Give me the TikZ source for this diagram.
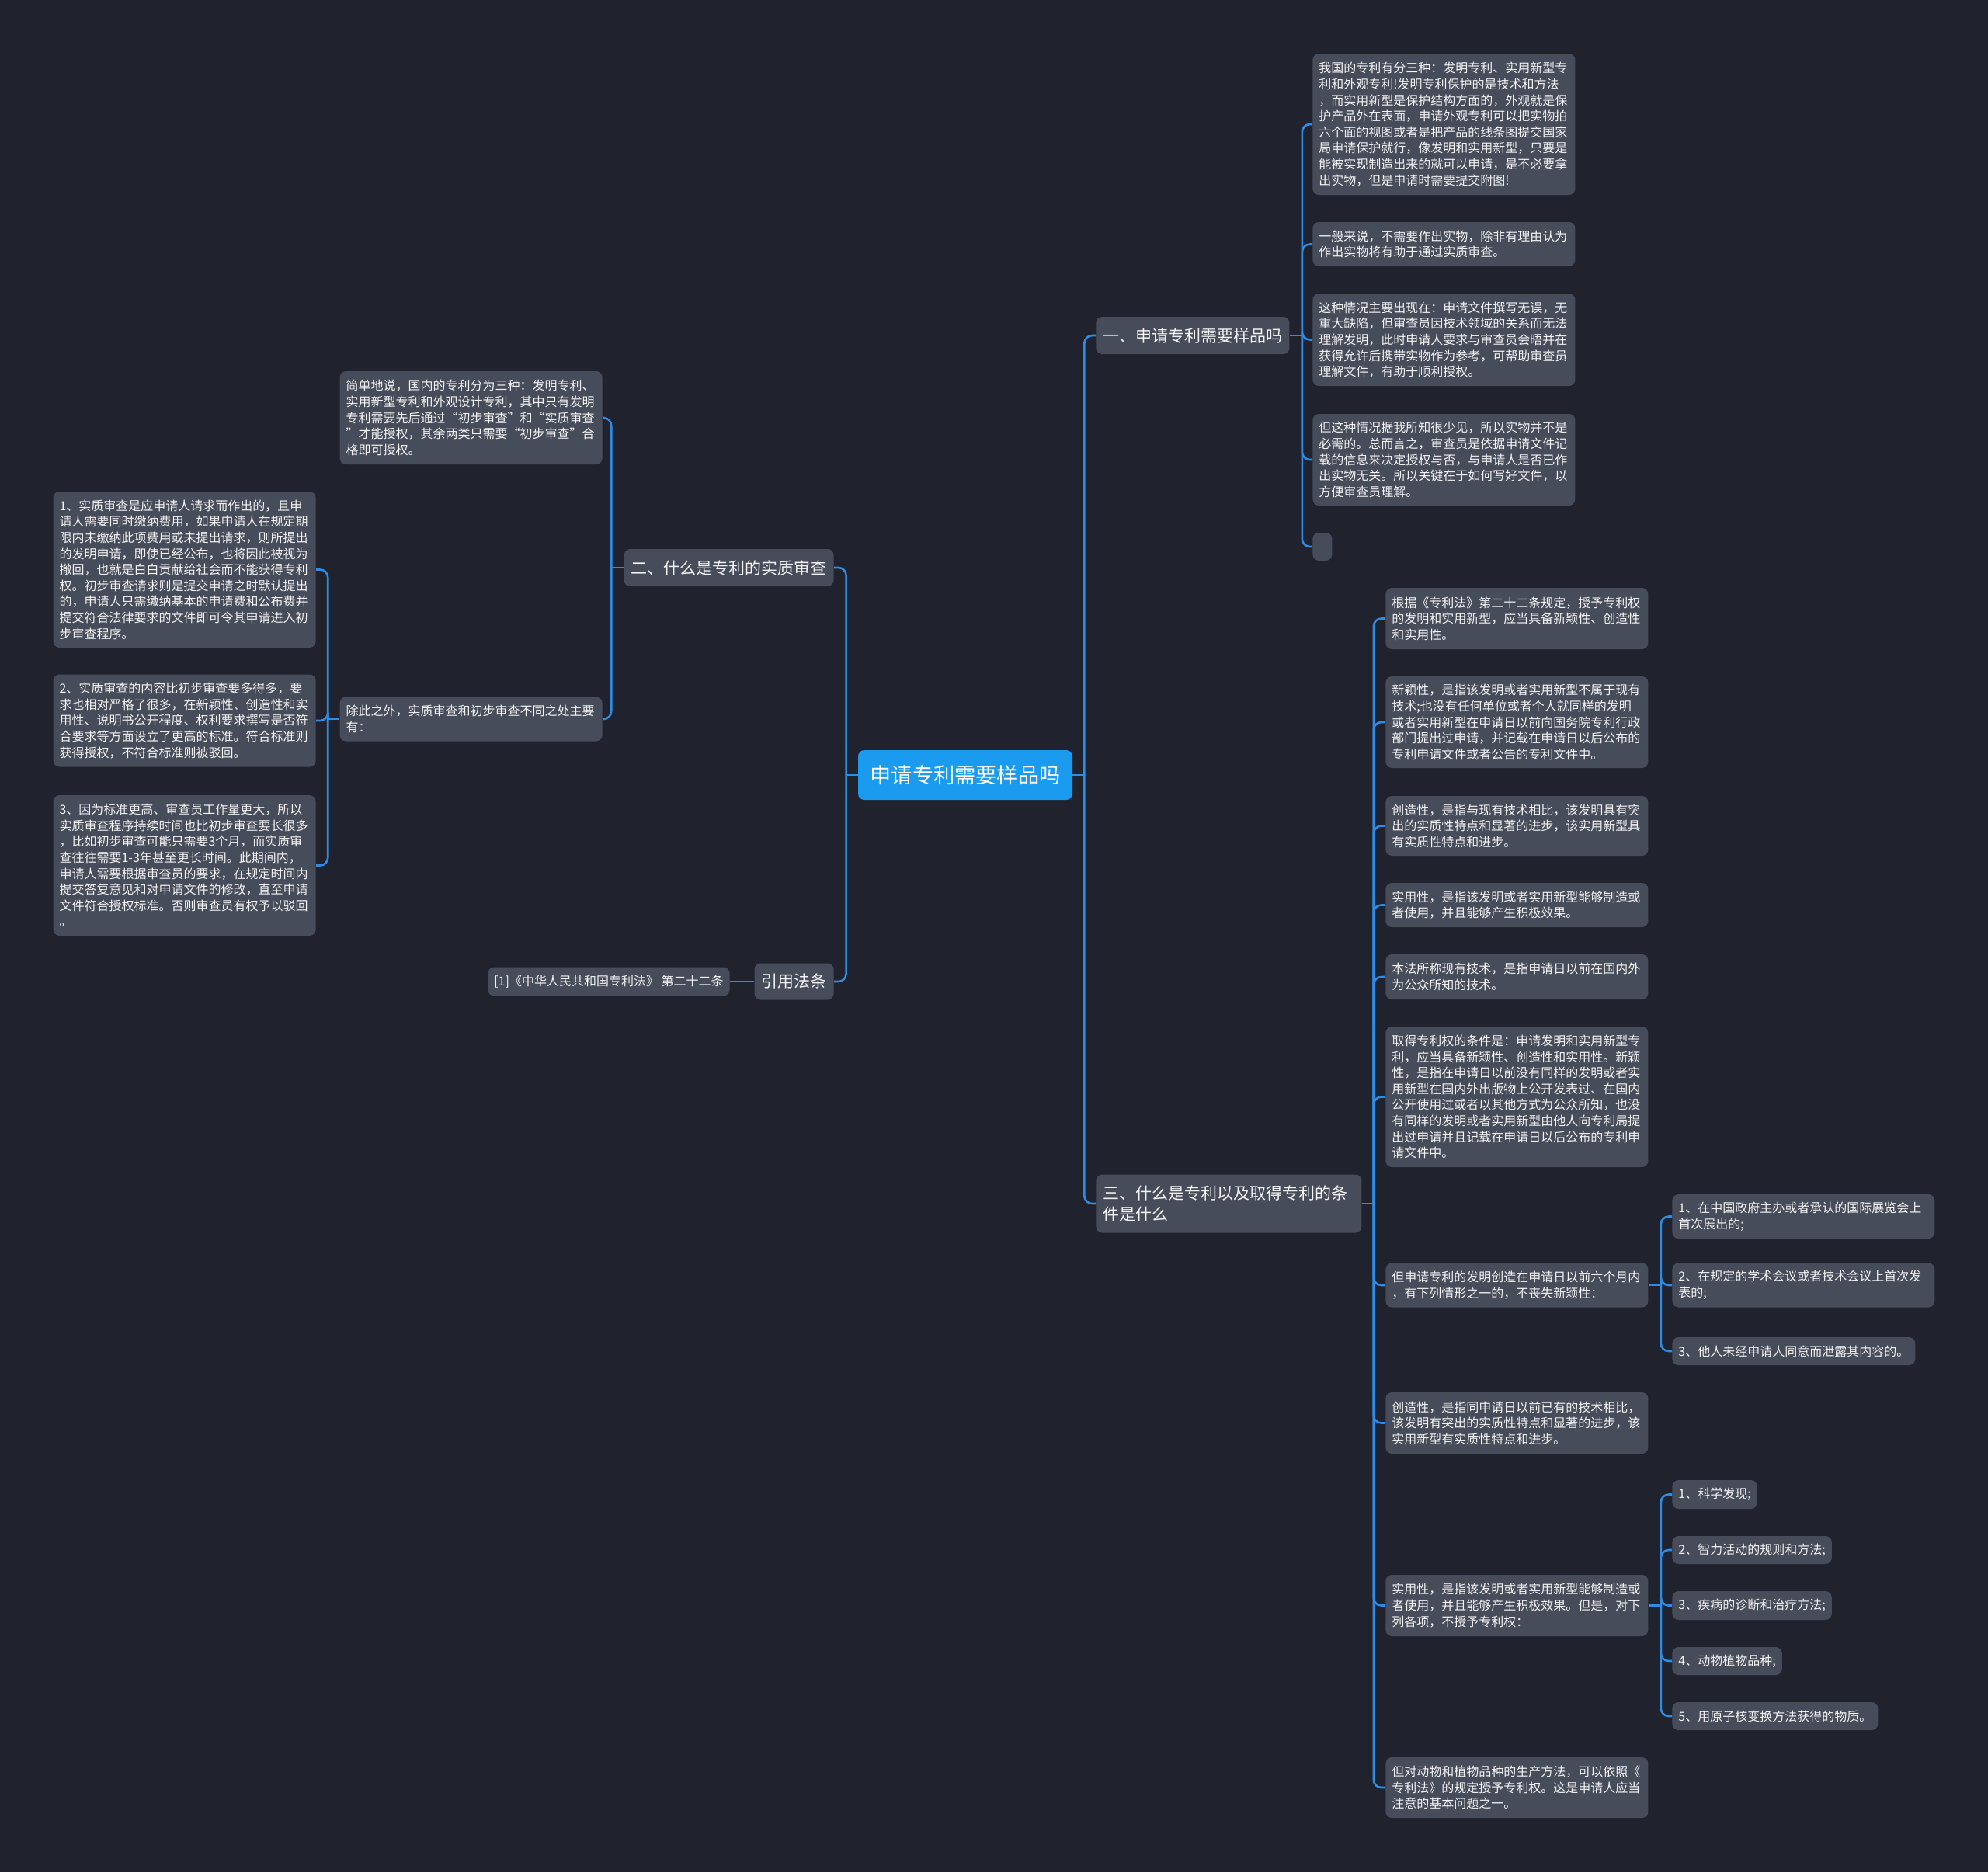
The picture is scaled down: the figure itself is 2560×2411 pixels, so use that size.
\documentclass[tikz,border=0pt]{standalone}
\usepackage{fontspec}
\setmainfont{Noto Sans CJK SC}
\definecolor{bgc}{HTML}{20232E}
\definecolor{boxc}{HTML}{474C5A}
\definecolor{linec}{HTML}{2D8CE6}
\definecolor{rootc}{HTML}{1A9BF0}
\definecolor{txtc}{HTML}{F3F3F3}
\tikzset{
  basebox/.style={fill=boxc, text=txtc, rounded corners=4pt, inner xsep=4pt, inner ysep=0pt},
  hh/.style={minimum height=#1*0.5pt},
  leaf/.style={basebox, font=\fontsize{8}{10.3}\selectfont, align=left, text width=161pt},
  small/.style={basebox, font=\fontsize{8}{10.3}\selectfont, align=left},
  topic/.style={basebox, font=\fontsize{10.5}{13.75}\selectfont, inner xsep=4.5pt, align=left},
  rootn/.style={fill=rootc, text=white, rounded corners=4pt, font=\fontsize{13.6}{16}\selectfont, minimum width=138pt, minimum height=32pt, inner sep=0pt},
  conn/.style={draw=linec, line width=1.3pt, rounded corners=5pt}
}
\begin{document}
\begin{tikzpicture}[x=0.5pt, y=-0.5pt]
\fill[bgc] (0,0) rectangle (2560,2411);

% root
\node[rootn] (root) at (1243,998) {申请专利需要样品吗};

% level 1
\node[topic, hh=48, anchor=west] (n1) at (1411,432) {一、申请专利需要样品吗};
\node[topic, hh=48, anchor=east] (n2) at (1074,731) {二、什么是专利的实质审查};
\node[topic, hh=47, anchor=east] (n4) at (1074,1264) {引用法条};
\node[topic, hh=75, anchor=west, text width=162pt] (n3) at (1411,1550) {三、什么是专利以及取得专利的条\\件是什么};

% reference
\node[small, hh=37, anchor=east] (r1) at (940,1264) {[1]《中华人民共和国专利法》 第二十二条};

% left side
\node[leaf, hh=120, anchor=east] (m1) at (776,538) {简单地说，国内的专利分为三种：发明专利、\\实用新型专利和外观设计专利，其中只有发明\\专利需要先后通过“初步审查”和“实质审查\\”才能授权，其余两类只需要“初步审查”合\\格即可授权。};
\node[leaf, hh=57, anchor=east] (m2) at (776,926) {除此之外，实质审查和初步审查不同之处主要\\有：};

\node[leaf, hh=201, anchor=east] (l1) at (407,733.5) {1、实质审查是应申请人请求而作出的，且申\\请人需要同时缴纳费用，如果申请人在规定期\\限内未缴纳此项费用或未提出请求，则所提出\\的发明申请，即使已经公布，也将因此被视为\\撤回，也就是白白贡献给社会而不能获得专利\\权。初步审查请求则是提交申请之时默认提出\\的，申请人只需缴纳基本的申请费和公布费并\\提交符合法律要求的文件即可令其申请进入初\\步审查程序。};
\node[leaf, hh=119, anchor=east] (l2) at (407,928) {2、实质审查的内容比初步审查要多得多，要\\求也相对严格了很多，在新颖性、创造性和实\\用性、说明书公开程度、权利要求撰写是否符\\合要求等方面设立了更高的标准。符合标准则\\获得授权，不符合标准则被驳回。};
\node[leaf, hh=181, anchor=east] (l3) at (407,1114.5) {3、因为标准更高、审查员工作量更大，所以\\实质审查程序持续时间也比初步审查要长很多\\，比如初步审查可能只需要3个月，而实质审\\查往往需要1-3年甚至更长时间。此期间内，\\申请人需要根据审查员的要求，在规定时间内\\提交答复意见和对申请文件的修改，直至申请\\文件符合授权标准。否则审查员有权予以驳回\\。};

% right side, branch 1
\node[leaf, hh=182, anchor=west] (a1) at (1690,160) {我国的专利有分三种：发明专利、实用新型专\\利和外观专利!发明专利保护的是技术和方法\\，而实用新型是保护结构方面的，外观就是保\\护产品外在表面，申请外观专利可以把实物拍\\六个面的视图或者是把产品的线条图提交国家\\局申请保护就行，像发明和实用新型，只要是\\能被实现制造出来的就可以申请，是不必要拿\\出实物，但是申请时需要提交附图!};
\node[leaf, hh=57, anchor=west] (a2) at (1690,314.5) {一般来说，不需要作出实物，除非有理由认为\\作出实物将有助于通过实质审查。};
\node[leaf, hh=119, anchor=west] (a3) at (1690,437.5) {这种情况主要出现在：申请文件撰写无误，无\\重大缺陷，但审查员因技术领域的关系而无法\\理解发明，此时申请人要求与审查员会晤并在\\获得允许后携带实物作为参考，可帮助审查员\\理解文件，有助于顺利授权。};
\node[leaf, hh=118, anchor=west] (a4) at (1690,592) {但这种情况据我所知很少见，所以实物并不是\\必需的。总而言之，审查员是依据申请文件记\\载的信息来决定授权与否，与申请人是否已作\\出实物无关。所以关键在于如何写好文件，以\\方便审查员理解。};
\node[basebox, minimum width=12.5pt, minimum height=18pt, inner sep=0pt, anchor=west] (a5) at (1690,704) {};

% right side, branch 3
\node[leaf, hh=79, anchor=west] (b1) at (1784,796.5) {根据《专利法》第二十二条规定，授予专利权\\的发明和实用新型，应当具备新颖性、创造性\\和实用性。};
\node[leaf, hh=118, anchor=west] (b2) at (1784,930) {新颖性，是指该发明或者实用新型不属于现有\\技术;也没有任何单位或者个人就同样的发明\\或者实用新型在申请日以前向国务院专利行政\\部门提出过申请，并记载在申请日以后公布的\\专利申请文件或者公告的专利文件中。};
\node[leaf, hh=77, anchor=west] (b3) at (1784,1063.5) {创造性，是指与现有技术相比，该发明具有突\\出的实质性特点和显著的进步，该实用新型具\\有实质性特点和进步。};
\node[leaf, hh=57, anchor=west] (b4) at (1784,1165.5) {实用性，是指该发明或者实用新型能够制造或\\者使用，并且能够产生积极效果。};
\node[leaf, hh=58, anchor=west] (b5) at (1784,1258) {本法所称现有技术，是指申请日以前在国内外\\为公众所知的技术。};
\node[leaf, hh=181, anchor=west] (b6) at (1784,1412.5) {取得专利权的条件是：申请发明和实用新型专\\利，应当具备新颖性、创造性和实用性。新颖\\性，是指在申请日以前没有同样的发明或者实\\用新型在国内外出版物上公开发表过、在国内\\公开使用过或者以其他方式为公众所知，也没\\有同样的发明或者实用新型由他人向专利局提\\出过申请并且记载在申请日以后公布的专利申\\请文件中。};
\node[leaf, hh=57, anchor=west] (b7) at (1784,1655) {但申请专利的发明创造在申请日以前六个月内\\，有下列情形之一的，不丧失新颖性：};
\node[leaf, hh=79, anchor=west] (b8) at (1784,1832.5) {创造性，是指同申请日以前已有的技术相比，\\该发明有突出的实质性特点和显著的进步，该\\实用新型有实质性特点和进步。};
\node[leaf, hh=79, anchor=west] (b9) at (1784,2067.5) {实用性，是指该发明或者实用新型能够制造或\\者使用，并且能够产生积极效果。但是，对下\\列各项，不授予专利权：};
\node[leaf, hh=78, anchor=west] (b10) at (1784,2302) {但对动物和植物品种的生产方法，可以依照《\\专利法》的规定授予专利权。这是申请人应当\\注意的基本问题之一。};

\node[leaf, hh=57, anchor=west] (c1) at (2153,1566.5) {1、在中国政府主办或者承认的国际展览会上\\首次展出的;};
\node[leaf, hh=57, anchor=west] (c2) at (2153,1655) {2、在规定的学术会议或者技术会议上首次发\\表的;};
\node[small, hh=36, anchor=west] (c3) at (2153,1740) {3、他人未经申请人同意而泄露其内容的。};

\node[small, hh=37, anchor=west] (d1) at (2153,1924.5) {1、科学发现;};
\node[small, hh=36, anchor=west] (d2) at (2153,1996) {2、智力活动的规则和方法;};
\node[small, hh=37, anchor=west] (d3) at (2153,2067.5) {3、疾病的诊断和治疗方法;};
\node[small, hh=36, anchor=west] (d4) at (2153,2139) {4、动物植物品种;};
\node[small, hh=36, anchor=west] (d5) at (2153,2210) {5、用原子核变换方法获得的物质。};

% connectors
\draw[conn] (root.east) -- ++(15,0) coordinate (jR);
\draw[conn] (jR) |- (n1.west);
\draw[conn] (jR) |- (n3.west);
\draw[conn] (root.west) -- ++(-15,0) coordinate (jL);
\draw[conn] (jL) |- (n2.east);
\draw[conn] (jL) |- (n4.east);
\draw[conn] (n4.west) -- (r1.east);

\draw[conn] (n1.east) -- ++(16,0) coordinate (j1);
\foreach \c in {a1,a2,a3,a4,a5} \draw[conn] (j1) |- (\c.west);

\draw[conn] (n2.west) -- ++(-16,0) coordinate (j2);
\foreach \c in {m1,m2} \draw[conn] (j2) |- (\c.east);

\draw[conn] (m2.west) -- ++(-15,0) coordinate (jm);
\foreach \c in {l1,l2,l3} \draw[conn] (jm) |- (\c.east);

\draw[conn] (n3.east) -- ++(15,0) coordinate (j3);
\foreach \c in {b1,b2,b3,b4,b5,b6,b7,b8,b9,b10} \draw[conn] (j3) |- (\c.west);

\draw[conn] (b7.east) -- ++(16,0) coordinate (j7);
\foreach \c in {c1,c2,c3} \draw[conn] (j7) |- (\c.west);

\draw[conn] (b9.east) -- ++(16,0) coordinate (j9);
\foreach \c in {d1,d2,d3,d4,d5} \draw[conn] (j9) |- (\c.west);
\end{tikzpicture}
\end{document}
